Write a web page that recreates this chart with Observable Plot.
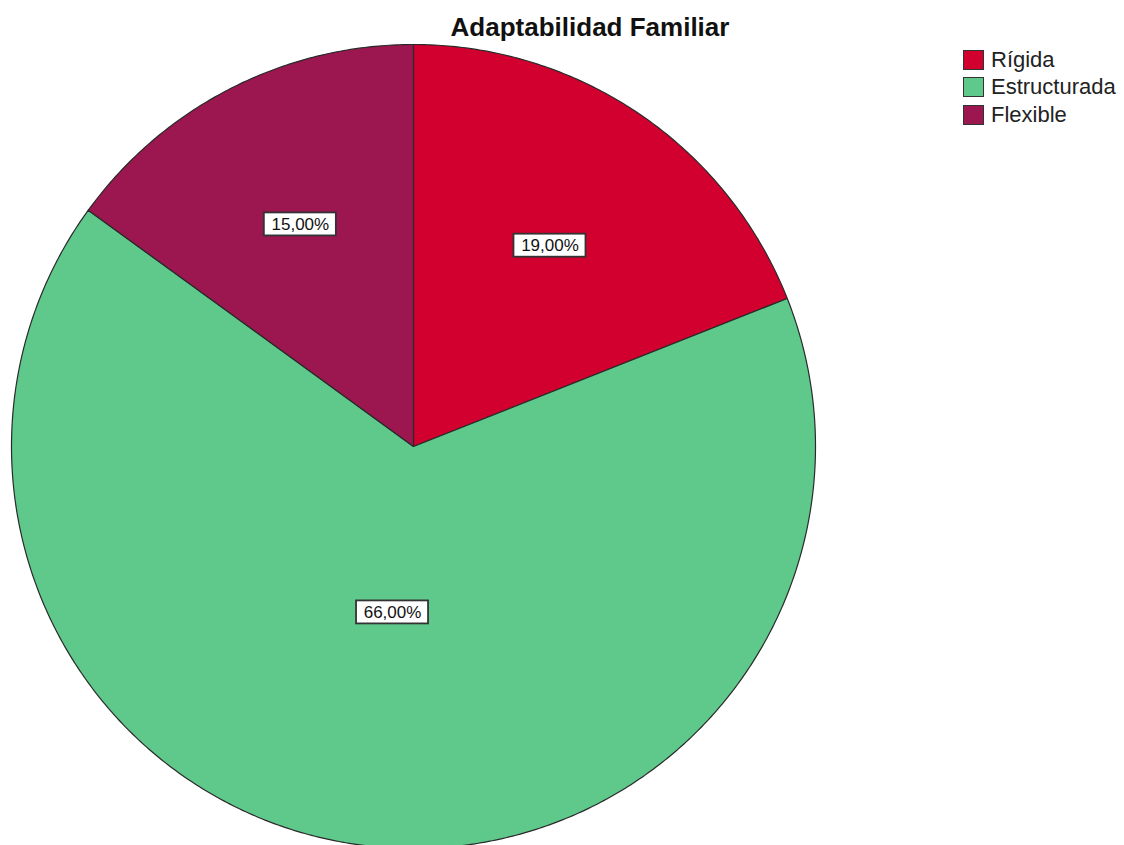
<!DOCTYPE html>
<html>
<head>
<meta charset="utf-8">
<script src="https://cdn.jsdelivr.net/npm/d3@7"></script>
<script src="https://cdn.jsdelivr.net/npm/@observablehq/plot@0.6"></script>
<style>
  html, body { margin: 0; padding: 0; background: #fff; }
  #wrap { position: relative; width: 1124px; height: 845px; overflow: hidden; font-family: "Liberation Sans", Arial, sans-serif; }
  #title { position: absolute; top: 12px; left: 590px; transform: translateX(-50%); font-weight: bold; font-size: 26px; color: #111; white-space: nowrap; }
  #legend { position: absolute; left: 963px; top: 46px; }
  .row { display: flex; align-items: center; height: 27.5px; font-size: 22px; color: #222; }
  .sw { width: 21px; height: 20px; box-sizing: border-box; border: 1px solid #333; margin-right: 7px; }
  svg { position: absolute; left: 0; top: 0; }
</style>
</head>
<body>
<div id="wrap">
  <div id="title">Adaptabilidad Familiar</div>
  <div id="legend"></div>
</div>
<script>
const categories = ["Rígida", "Estructurada", "Flexible"];
const percents = [19, 66, 15];
const colors = ["#d2002e", "#5ec98b", "#9c1650"];
const titleText = "Adaptabilidad Familiar";

const W = 1124, H = 845;
const cx = 413, cy = 446, R = 402;

const data = categories.map((name, i) => ({name, value: percents[i]}));
const arcs = d3.pie().sort(null).value(d => d.value).startAngle(0).endAngle(2 * Math.PI)(data);

// polygon points for each slice (unit circle, y up)
const pts = [];
for (const a of arcs) {
  pts.push({name: a.data.name, x: 0, y: 0});
  const n = Math.max(2, Math.ceil((a.endAngle - a.startAngle) / (Math.PI / 360)));
  for (let k = 0; k <= n; k++) {
    const t = a.startAngle + (a.endAngle - a.startAngle) * k / n;
    pts.push({name: a.data.name, x: Math.sin(t), y: Math.cos(t)});
  }
}

// label positions
const total = d3.sum(percents);
const labels = arcs.map(a => {
  const f = a.data.value / total;
  const mid = (a.startAngle + a.endAngle) / 2;
  const r = 0.68 - 0.4 * f;
  return {
    name: a.data.name,
    text: a.data.value.toFixed(2).replace(".", ",") + "%",
    x: r * Math.sin(mid),
    y: r * Math.cos(mid)
  };
});
const hw = 36 / R, hh = 11.5 / R;

const chart = Plot.plot({
  width: W, height: H,
  marginTop: 0, marginRight: 0, marginBottom: 0, marginLeft: 0,
  x: {domain: [-cx / R, (W - cx) / R], axis: null},
  y: {domain: [-(H - cy) / R, cy / R], axis: null},
  color: {domain: categories, range: colors},
  marks: [
    Plot.line(pts, {x: "x", y: "y", z: "name", fill: "name", stroke: "#2a2a2a", strokeWidth: 1.2, curve: "linear-closed"}),
    Plot.rect(labels, {x1: d => d.x - hw, x2: d => d.x + hw, y1: d => d.y - hh, y2: d => d.y + hh, fill: "white", stroke: "#333", strokeWidth: 1.8}),
    Plot.text(labels, {x: "x", y: "y", text: "text", fontSize: 17, fill: "#111", fontFamily: "Liberation Sans, Arial, sans-serif"})
  ]
});
document.getElementById("wrap").prepend(chart);

const legend = document.getElementById("legend");
categories.forEach((c, i) => {
  const row = document.createElement("div");
  row.className = "row";
  const sw = document.createElement("div");
  sw.className = "sw";
  sw.style.background = colors[i];
  const t = document.createElement("span");
  t.textContent = c;
  row.appendChild(sw);
  row.appendChild(t);
  legend.appendChild(row);
});
document.getElementById("title").textContent = titleText;
</script>
</body>
</html>
